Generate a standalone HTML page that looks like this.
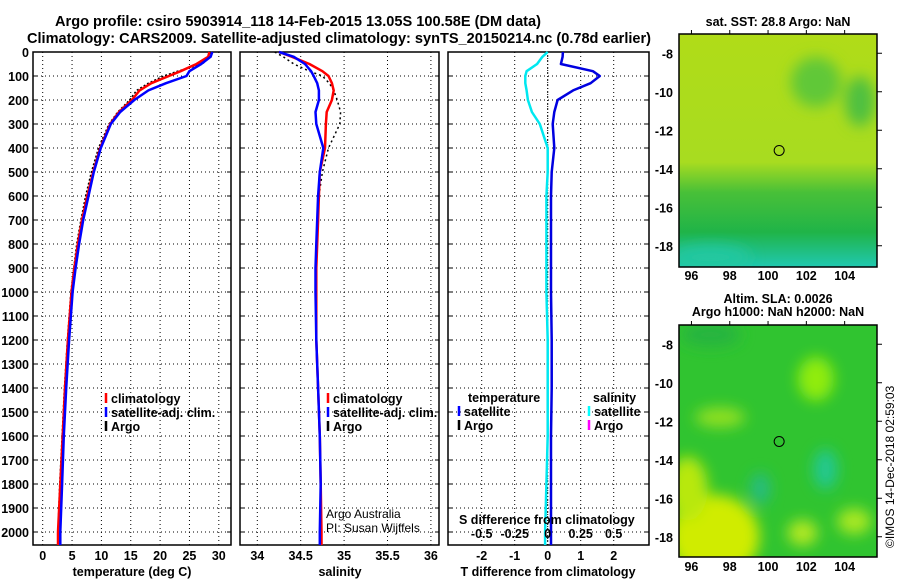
<!DOCTYPE html>
<html><head><meta charset="utf-8"><style>
body{margin:0;background:#fff;}
svg{display:block;font-family:"Liberation Sans",sans-serif;}
.b{font-weight:bold;font-size:12.5px;}
</style></head><body>
<svg id="c" width="900" height="580" viewBox="0 0 900 580">
<defs>
<filter id="bl" x="-50%" y="-50%" width="200%" height="200%"><feGaussianBlur stdDeviation="7"/></filter>
<clipPath id="m1c"><rect x="679" y="34" width="198" height="233"/></clipPath>
<clipPath id="m2c"><rect x="679" y="325" width="198" height="232"/></clipPath>
<linearGradient id="g1" x1="0" y1="0" x2="0" y2="1">
<stop offset="0" stop-color="#b0dc18"/><stop offset="0.55" stop-color="#a8dc20"/><stop offset="0.68" stop-color="#48c038"/><stop offset="0.85" stop-color="#20b448"/><stop offset="1" stop-color="#20c8b0"/></linearGradient>
</defs>
<text x="298" y="26" text-anchor="middle" font-weight="bold" font-size="15" textLength="486" lengthAdjust="spacingAndGlyphs">Argo profile: csiro 5903914_118 14-Feb-2015 13.05S 100.58E (DM data)</text>
<text x="339" y="43" text-anchor="middle" font-weight="bold" font-size="15" textLength="624" lengthAdjust="spacingAndGlyphs">Climatology: CARS2009. Satellite-adjusted climatology: synTS_20150214.nc (0.78d earlier)</text>
<g id="p1"></g>
<g id="p2"></g>
<g id="p3"></g>
<g id="maps"></g>
<text transform="translate(894,548) rotate(-90)" font-size="12">©IMOS 14-Dec-2018 02:59:03</text>
</svg>
<script>
// ---- data ----
const depths = [0,20,50,80,100,130,160,200,250,300,400,500,600,700,800,900,1000,1200,1400,1600,1800,2000,2054];
const tempClim = [28.4,28.2,26.2,23.5,21.5,18.5,16.5,15.2,13,11.5,9.8,8.6,7.6,6.7,6.0,5.4,4.9,4.3,3.8,3.4,3.0,2.6,2.6];
const tempSat = [28.9,28.6,27.0,25.0,24.5,21.0,18.0,15.6,13.2,11.6,9.9,8.7,7.8,6.9,6.2,5.6,5.1,4.5,4.0,3.6,3.3,3.0,3.0];
const tempArgo = [28.6,28.4,27.2,23.0,20.6,18.0,16.0,14.8,12.8,11.3,9.5,8.3,7.3,6.5,5.8,5.3,4.8,4.2,3.7,3.3,2.9,2.6,2.6];
const salClim = [34.25,34.4,34.6,34.75,34.82,34.86,34.88,34.86,34.8,34.79,34.78,34.72,34.71,34.7,34.69,34.68,34.68,34.68,34.7,34.72,34.73,34.74,34.74];
const salSat = [34.25,34.42,34.55,34.62,34.65,34.69,34.71,34.71,34.67,34.68,34.76,34.72,34.7,34.69,34.68,34.67,34.67,34.68,34.7,34.72,34.73,34.72,34.72];
const salArgo = [34.2,34.3,34.42,34.6,34.75,34.83,34.88,34.92,34.96,34.95,34.82,34.75,34.71,34.69,34.68,34.67,34.67,34.68,34.7,34.72,34.73,34.73,34.73];
const tDiff = [0.46,0.45,0.4,1.37,1.58,1.3,0.77,0.3,0.2,0.15,0.2,0.12,0.1,0.1,0.1,0.1,0.1,0.12,0.12,0.1,0.1,0.1,0.1];
const sDiff = [0,-0.04,-0.08,-0.16,-0.17,-0.17,-0.16,-0.15,-0.12,-0.06,0,0,-0.01,-0.01,-0.01,-0.01,-0.01,0,0,0,-0.01,-0.02,-0.02];
const depthTicks = [0,100,200,300,400,500,600,700,800,900,1000,1100,1200,1300,1400,1500,1600,1700,1800,1900,2000];
const tTicks = [0,5,10,15,20,25,30];
const sTicks = [34,34.5,35,35.5,36];
const dTTicks = [-2,-1,0,1,2];
const dSTicks = [-0.5,-0.25,0,0.25,0.5];
const dSTickLabels = ['-0.5','-0.25','0','0.25','0.5'];
const latTicks = [-8,-10,-12,-14,-16,-18];
const lonTicks = [96,98,100,102,104];
const argoLon = 100.58, argoLat = -13.05;

const NS='http://www.w3.org/2000/svg';
function mk(p,tag,a,txt){const e=document.createElementNS(NS,tag);for(const k in a)e.setAttribute(k,a[k]);if(txt!==undefined)e.textContent=txt;p.appendChild(e);return e;}
const Y0=52, Y1=545;
const yD = d => 52 + d*0.24;
const xT = t => 42.7 + t*5.87;
const xS = s => 257.3 + (s-34)*86.8;
const xDT = v => 547.7 + v*33;
const xDS = v => 547.7 + v*132;

function panel(g,x0,x1,vticks,xf,labels){
  for(const v of vticks){const x=xf(v);
    const l=mk(g,'line',{x1:x,x2:x,y1:Y0,y2:Y1,stroke:'#000','stroke-width':1,'stroke-dasharray':'1,3'});
    }
  for(const d of depthTicks){const y=yD(d);
    const l=mk(g,'line',{x1:x0,x2:x1,y1:y,y2:y,stroke:'#000','stroke-width':1,'stroke-dasharray':'1,3'});
    
    mk(g,'line',{x1:x0,x2:x0+4,y1:y,y2:y,stroke:'#000'});mk(g,'line',{x1:x1-4,x2:x1,y1:y,y2:y,stroke:'#000'});}
  const r=mk(g,'rect',{x:x0,y:Y0,width:x1-x0,height:Y1-Y0,fill:'none',stroke:'#000','stroke-width':1.5});
  
  if(labels) vticks.forEach((v,i)=>{const t=mk(g,'text',{x:xf(v),y:560,'text-anchor':'middle',class:'b'},labels[i]);
    });
}
function line(g,xs,xf,col,w,dash,name){
  const pts=depths.map((d,i)=>xf(xs[i]).toFixed(1)+','+yD(d).toFixed(1)).join(' ');
  const a={points:pts,fill:'none',stroke:col,'stroke-width':w,'stroke-linejoin':'round'};
  if(dash)a['stroke-dasharray']=dash;
  const p=mk(g,'polyline',a);
  
}
function legend(g,x,y,col,label){mk(g,'line',{x1:x,x2:x,y1:y-10,y2:y,stroke:col,'stroke-width':2.5});
  const t=mk(g,'text',{x:x+5,y:y,class:'b'},label);
  }

// panel 1
const p1=document.getElementById('p1');
panel(p1,33,231,tTicks,xT,tTicks.map(String));
depthTicks.forEach(d=>{const t=mk(p1,'text',{x:29,y:yD(d)+5,'text-anchor':'end',class:'b'},String(d));
  });
line(p1,tempArgo,xT,'#000',1.5,'2,2','temp-argo-line');
line(p1,tempClim,xT,'#f00',2.5,null,'temp-climatology-line');
line(p1,tempSat,xT,'#00f',2.5,null,'temp-satellite-line');
legend(p1,106,403,'#f00','climatology');legend(p1,106,417,'#00f','satellite-adj. clim.');legend(p1,106,431,'#000','Argo');
mk(p1,'text',{x:132,y:576,'text-anchor':'middle',class:'b'},'temperature (deg C)');

// panel 2
const p2=document.getElementById('p2');
panel(p2,240,439,sTicks,xS,sTicks.map(String));
line(p2,salArgo,xS,'#000',1.5,'2,3','sal-argo-line');
line(p2,salClim,xS,'#f00',2.5,null,'sal-climatology-line');
line(p2,salSat,xS,'#00f',2.5,null,'sal-satellite-line');
legend(p2,328,403,'#f00','climatology');legend(p2,328,417,'#00f','satellite-adj. clim.');legend(p2,328,431,'#000','Argo');
mk(p2,'text',{x:326,y:518,'font-size':12},'Argo Australia');
mk(p2,'text',{x:326,y:532,'font-size':12},'PI: Susan Wijffels');
mk(p2,'text',{x:340,y:576,'text-anchor':'middle',class:'b'},'salinity');

// panel 3
const p3=document.getElementById('p3');
panel(p3,448,649,dTTicks,xDT,dTTicks.map(String));
mk(p3,'line',{x1:xDT(0),x2:xDT(0),y1:Y0,y2:Y1,stroke:'#000','stroke-dasharray':'1,2'});
line(p3,sDiff,xDS,'#00e8f0',2.5,null,'sal-diff-line');
line(p3,tDiff,xDT,'#0000e0',2.5,null,'temp-diff-line');
mk(p3,'text',{x:468,y:402,class:'b'},'temperature');
legend(p3,459,416,'#00f','satellite');legend(p3,459,430,'#000','Argo');
mk(p3,'text',{x:593,y:402,class:'b'},'salinity');
legend(p3,589,416,'#00ffff','satellite');legend(p3,589,430,'#ff00ff','Argo');
mk(p3,'text',{x:459,y:524,class:'b'},'S difference from climatology');
dSTicks.forEach((v,i)=>{const t=mk(p3,'text',{x:xDS(v),y:538,'text-anchor':'middle',class:'b'},dSTickLabels[i]);
  });
mk(p3,'text',{x:548,y:576,'text-anchor':'middle',class:'b'},'T difference from climatology');

// maps
const mg=document.getElementById('maps');
function map(top,title,titles,id){
  const lonX=l=>679+(l-95.35)*19.15, latY=la=>top+(-7.0-la)*19.25;
  const g=mk(mg,'g',{'clip-path':'url(#'+id+')'});
  
  if(id==='m1c'){
    mk(g,'rect',{x:679,y:top,width:198,height:233,fill:'url(#g1)'});
    const bl=mk(g,'g',{filter:'url(#bl)'});
    mk(bl,'ellipse',{cx:lonX(102.5),cy:latY(-9.5),rx:25,ry:25,fill:'#60c838'});
    mk(bl,'ellipse',{cx:lonX(104.8),cy:latY(-10.5),rx:15,ry:25,fill:'#50c040'});
    mk(bl,'ellipse',{cx:lonX(97),cy:latY(-18.6),rx:40,ry:12,fill:'#20c8a0'});
  } else {
    mk(g,'rect',{x:679,y:top,width:198,height:232,fill:'#30c430'});
    const bl=mk(g,'g',{filter:'url(#bl)'});
    mk(bl,'ellipse',{cx:lonX(97.2),cy:latY(-18),rx:45,ry:42,fill:'#d0ec00'});
    mk(bl,'ellipse',{cx:lonX(95.8),cy:latY(-15.5),rx:20,ry:32,fill:'#b8e810'});
    mk(bl,'ellipse',{cx:lonX(102.5),cy:latY(-9.8),rx:18,ry:22,fill:'#90ec10'});
    mk(bl,'ellipse',{cx:lonX(97.5),cy:latY(-11.8),rx:25,ry:10,fill:'#90e020'});
    mk(bl,'ellipse',{cx:lonX(101.8),cy:latY(-17.8),rx:15,ry:13,fill:'#b0e820'});
    mk(bl,'ellipse',{cx:lonX(104.5),cy:latY(-17.2),rx:17,ry:13,fill:'#a8e820'});
    mk(bl,'ellipse',{cx:lonX(103),cy:latY(-14.5),rx:12,ry:20,fill:'#20c890'});
    mk(bl,'ellipse',{cx:lonX(99.6),cy:latY(-15.5),rx:10,ry:16,fill:'#28bc80'});
    mk(bl,'ellipse',{cx:lonX(97),cy:latY(-7.5),rx:30,ry:12,fill:'#28b440'});
  }
  mk(mg,'rect',{x:679,y:top,width:198,height:id==='m1c'?233:232,fill:'none',stroke:'#000','stroke-width':1.5});
  const c=mk(mg,'circle',{cx:lonX(argoLon),cy:latY(argoLat),r:5,fill:'none',stroke:'#000'});
  
  latTicks.forEach(la=>{const y=latY(la);mk(mg,'line',{x1:877,x2:882,y1:y,y2:y,stroke:'#000'});
    const t=mk(mg,'text',{x:673,y:y+5,'text-anchor':'end',class:'b'},String(la));
    });
  lonTicks.forEach(l=>{const x=lonX(l);mk(mg,'line',{x1:x,x2:x,y1:top-4,y2:top,stroke:'#000'});
    const t=mk(mg,'text',{x:x,y:top+246,'text-anchor':'middle',class:'b'},String(l));
    });
  titles.forEach((s,i)=>{const t=mk(mg,'text',{x:778,y:title+i*13,'text-anchor':'middle',class:'b'},s);
    });
}
map(34,26,['sat. SST: 28.8 Argo: NaN'],'m1c');
map(325,303,['Altim. SLA: 0.0026','Argo h1000: NaN h2000: NaN'],'m2c');
</script>
</body></html>
